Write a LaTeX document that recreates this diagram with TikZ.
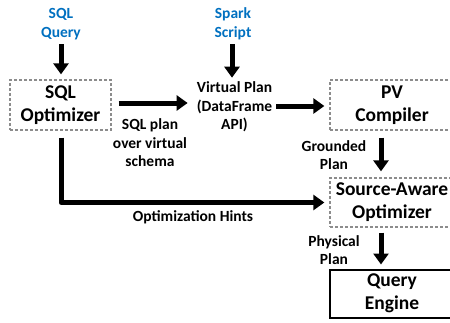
\documentclass[tikz,border=0pt]{standalone}
\usepackage{fontspec}
\setmainfont{Carlito}
\usetikzlibrary{arrows.meta,calc}
\definecolor{srcblue}{HTML}{0070C0}
\definecolor{boxgray}{HTML}{8C8C8C}
\tikzset{
  lbl/.style={inner sep=0pt, align=center, font=\fontsize{15.5}{18.5}\selectfont\bfseries},
  srclbl/.style={lbl, text=srcblue, font=\fontsize{15.5}{19}\selectfont\bfseries},
  boxtxt/.style={align=center, inner sep=0pt, font=\fontsize{19.5}{23}\selectfont\bfseries},
  dashbox/.style={boxtxt, draw=boxgray, line width=1.3pt, dash pattern=on 3pt off 2pt},
  solidbox/.style={boxtxt, draw=black, line width=2pt},
  arr/.style={line width=5pt, line join=round, -{Triangle[length=11pt,width=15pt]}},
}
\begin{document}
\begin{tikzpicture}[x=1pt,y=-1pt]
  \useasboundingbox (0,0) rectangle (450,322);
  \clip (0,0) rectangle (450,322);

  % inputs
  \node[srclbl] (sqlq) at (61,24) {SQL\\Query};
  \node[srclbl] (spark) at (233,24) {Spark\\Script};

  % components
  \node[dashbox, minimum width=101pt, minimum height=50pt] (sqlopt) at (60.5,105) {SQL\\Optimizer};
  \node[lbl] (vp) at (234.5,107) {Virtual Plan\\(DataFrame\\API)};
  \node[dashbox, minimum width=124pt, minimum height=50pt] (pv) at (392,105) {PV\\Compiler};
  \node[dashbox, minimum width=124pt, minimum height=49pt] (sa) at (392,202.5) {Source-Aware\\Optimizer};
  \node[solidbox, minimum width=124pt, minimum height=48pt] (qe) at (392,293.5) {Query\\Engine};

  % edge labels
  \node[lbl] (sqlplan) at (150,143) {SQL plan\\over virtual\\schema};
  \node[lbl] (grounded) at (334,155) {Grounded\\Plan};
  \node[lbl] (physical) at (334,250) {Physical\\Plan};
  \node[lbl] (hints) at (193,217) {Optimization Hints};

  % flow
  \draw[arr, shorten <=4pt, shorten >=5pt] (sqlq.south) -- (sqlq.south |- sqlopt.north);
  \draw[arr, shorten <=4pt, shorten >=4pt] ([xshift=-1pt]spark.south) -- ([xshift=-1pt]spark.south |- vp.north);
  \draw[arr, shorten <=7pt, shorten >=9pt] ([yshift=2pt]sqlopt.east) -- ([yshift=2pt]sqlopt.east -| vp.west);
  \draw[arr, shorten <=4pt, shorten >=5pt] ([yshift=1pt]vp.east) -- ([yshift=1pt]vp.east -| pv.west);
  \draw[arr, shorten <=7pt, shorten >=6pt] ([xshift=-11pt]pv.south) -- ([xshift=-11pt]sa.north);
  \draw[arr, shorten <=5pt, shorten >=4pt] ([xshift=-11pt]sa.south) -- ([xshift=-11pt]qe.north);
  \draw[arr, shorten <=7pt, shorten >=5pt] ([xshift=.5pt]sqlopt.south) |- (sa.west);
\end{tikzpicture}
\end{document}
